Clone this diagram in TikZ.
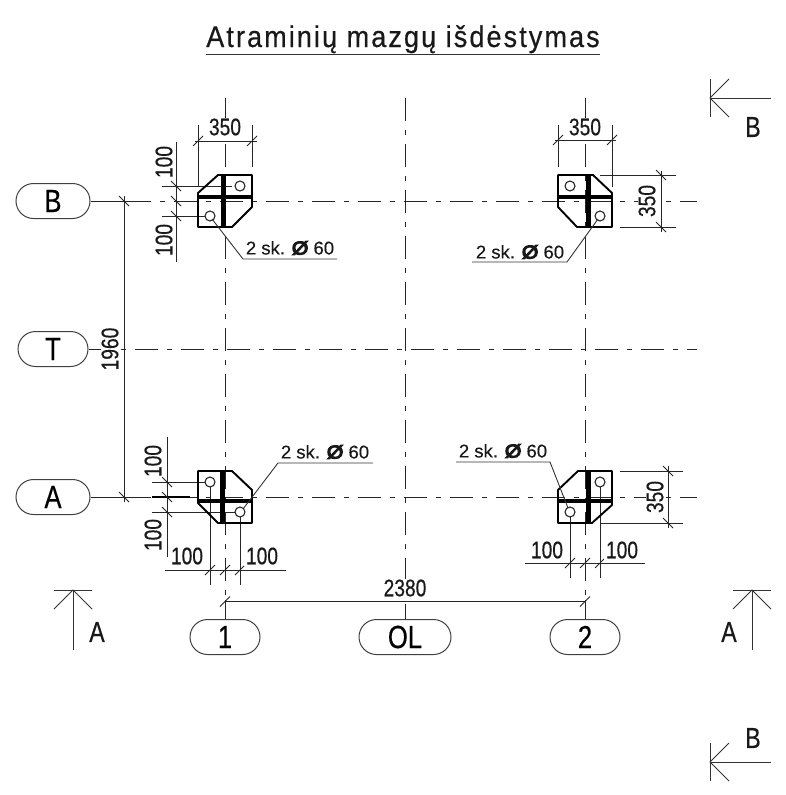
\documentclass[tikz,border=0pt]{standalone}
\usepackage{fontspec}
\setmainfont[FakeStretch=0.8,FakeBold=0.4]{Liberation Sans}
\newfontfamily\titlefont[FakeStretch=0.9,LetterSpace=7,FakeBold=0.45]{Liberation Sans}
\newfontfamily\leadfont[FakeStretch=1.0,FakeBold=0.3]{Liberation Sans}
\newfontfamily\blobfont[FakeStretch=1.15,FakeBold=6]{Liberation Sans}
\usetikzlibrary{shapes.misc}
\tikzset{
  axisline/.style={line width=0.9pt,draw=black!85,dash pattern=on 23pt off 9pt on 5pt off 9pt},
  thinline/.style={line width=0.9pt,draw=black!80},
  dimline/.style={line width=0.9pt,draw=black!85},
  plate/.style={line width=1.9pt,draw=black,line join=round},
  ribv/.style={line width=5pt,draw=black},
  ribh/.style={line width=4pt,draw=black},
  hole/.style={line width=1.1pt,draw=black!85},
  bubble/.style={rounded rectangle,draw=black!75,line width=1pt,minimum height=35pt,inner sep=0pt,font=\fontsize{32}{32}\selectfont,text=black},
  dimtext/.style={font=\fontsize{24}{24}\selectfont,inner xsep=2pt,inner ysep=1pt,fill=white,text=black!90},
  leadtext/.style={font=\fontsize{18.5}{18.5}\selectfont\leadfont,inner sep=0pt,text=black!90},
  sectext/.style={font=\fontsize{29}{29}\selectfont,inner sep=0pt,text=black!90},
  slash/.pic={\draw[line width=0.9pt,draw=black!85] (-5,5) -- (5,-5);},
  bslash/.pic={\draw[line width=0.9pt,draw=black!85] (-5,-5) -- (5,5);},
}
\newcommand{\leadlabel}{2 sk. {\blobfont Ø} 60}
\begin{document}
\begin{tikzpicture}[x=1pt,y=-1pt]
\useasboundingbox (0,0) rectangle (786,795);
% title
\node[inner sep=0pt,anchor=base,font=\fontsize{30}{30}\selectfont\titlefont,text=black!90] (title) at (403,47) {Atraminių mazgų išdėstymas};
\coordinate (tl) at (206,54); \coordinate (tr) at (600,54);
\draw[thinline] (tl) -- (tr);
% bubbles
\node[bubble,minimum width=74pt] (B) at (53,201) {B};
\node[bubble,minimum width=70pt] (T) at (53,349) {T};
\node[bubble,minimum width=74pt] (A) at (53,497) {A};
\node[bubble,minimum width=70pt] (n1) at (225,637) {1};
\node[bubble,minimum width=92pt] (OL) at (405,637) {OL};
\node[bubble,minimum width=70pt] (n2) at (585,637) {2};
% axes
\coordinate (v1t) at (225,98); \coordinate (v2t) at (405,98); \coordinate (v3t) at (585,98);
\coordinate (v1e) at (225,600); \coordinate (v3e) at (585,600);
\coordinate (h1e) at (697,201); \coordinate (h2e) at (697,349); \coordinate (h3e) at (697,497);
\coordinate (h1s) at (128,201); \coordinate (h3s) at (128,497);
\draw[axisline] (v1t) -- (v1e);
\draw[axisline] (v2t) -- (OL.north);
\draw[axisline] (v3t) -- (v3e);
\draw[dimline] (v1e) -- (n1.north);
\draw[dimline] (v3e) -- (n2.north);
\draw[axisline] (h1s) -- (h1e);
\draw[axisline] (T.east) -- (h2e);
\draw[axisline] (h3s) -- (h3e);
\draw[dimline] (B.east) -- (h1s);
\draw[dimline] (A.east) -- (h3s);
% 1960
\coordinate (d1a) at (124,196); \coordinate (d1b) at (124,502);
\draw[dimline] (d1a) -- (d1b);
\pic at (124,201) {bslash}; \pic at (124,497) {bslash};
\node[dimtext,rotate=90] (t1960) at (110,349) {1960};
% 2380
\coordinate (d2a) at (225,601.5); \coordinate (d2b) at (585,601.5);
\draw[dimline] (d2a) -- (d2b);
\pic at (225,601.5) {slash}; \pic at (585,601.5) {slash};
\node[dimtext] (t2380) at (405,588) {2380};

% ---------- top-left plate
\draw[dimline] (198,125) -- (198,186);
\draw[dimline] (252,125) -- (252,167);
\draw[dimline] (195,141) -- (257,141);
\pic at (198,141) {slash}; \pic at (252,141) {slash};
\node[dimtext] at (225,127) {350};
\draw[dimline] (176,142) -- (176,262);
\draw[dimline] (162,186) -- (232,186);
\draw[dimline] (162,216) -- (205,216);
\pic at (176,186) {bslash}; \pic at (176,201) {bslash}; \pic at (176,216) {bslash};
\node[dimtext,rotate=90] at (164,162) {100};
\node[dimtext,rotate=90] at (164,240) {100};
\draw[plate] (198,193) -- (218,175) -- (252,175) -- (252,207) -- (232,227) -- (198,227) -- cycle;
\draw[ribv] (223,175) -- (223,227);
\draw[ribh] (198,196.5) -- (252,196.5);
\draw[hole,fill=white] (240,186) circle[radius=5];
\draw[hole,fill=white] (210,216) circle[radius=5];
\draw[thinline] (212,219) -- (243,259) -- (337,259);
\node[leadtext] at (290,248) {\leadlabel};

% ---------- top-right plate
\draw[dimline] (558,125) -- (558,167);
\draw[dimline] (612,125) -- (612,187);
\draw[dimline] (555,140) -- (616,140);
\pic at (558,140) {slash}; \pic at (612,140) {slash};
\node[dimtext] at (585,127) {350};
\draw[dimline] (661,171) -- (661,232);
\draw[dimline] (600,175) -- (676,175);
\draw[dimline] (620,227) -- (676,227);
\pic at (661,175) {bslash}; \pic at (661,227) {bslash};
\node[dimtext,rotate=90] at (647,201) {350};
\draw[plate] (558,175) -- (593,175) -- (612,193) -- (612,227) -- (577,227) -- (558,207) -- cycle;
\draw[ribv] (588,175) -- (588,227);
\draw[ribh] (558,196.5) -- (612,196.5);
\draw[hole,fill=white] (570,186) circle[radius=5];
\draw[hole,fill=white] (600,216) circle[radius=5];
\draw[thinline] (598,219) -- (567,262) -- (472,262);
\node[leadtext] at (520,252) {\leadlabel};

% ---------- bottom-left plate
\draw[dimline] (167,437) -- (167,557);
\draw[dimline] (152,482) -- (205,482);
\draw[dimline] (152,512) -- (235,512);
\draw[line width=1.4pt] (152,497) -- (190,497);
\pic at (167,482) {bslash}; \pic at (167,497) {bslash}; \pic at (167,512) {bslash};
\node[dimtext,rotate=90] at (153,461) {100};
\node[dimtext,rotate=90] at (153,535) {100};
\draw[dimline] (165,570) -- (286,570);
\draw[dimline] (210,481) -- (210,585);
\draw[dimline] (240,512) -- (240,585);
\pic at (210,570) {slash}; \pic at (225,570) {slash}; \pic at (240,570) {slash};
\node[dimtext] at (187,556) {100};
\node[dimtext] at (262,556) {100};
\draw[plate] (198,471) -- (232,471) -- (252,490) -- (252,523) -- (218,523) -- (198,503) -- cycle;
\draw[ribv] (222.5,471) -- (222.5,523);
\draw[ribh] (198,501) -- (252,501);
\draw[hole,fill=white] (210,482) circle[radius=5];
\draw[hole,fill=white] (240,512) circle[radius=5];
\draw[thinline] (243,509) -- (278,463) -- (373,463);
\node[leadtext] at (325,452) {\leadlabel};

% ---------- bottom-right plate
\draw[dimline] (668,466) -- (668,528);
\draw[dimline] (620,471) -- (683,471);
\draw[dimline] (600,523) -- (683,523);
\pic at (668,471) {bslash}; \pic at (668,523) {bslash};
\node[dimtext,rotate=90] at (655,497) {350};
\draw[dimline] (525,563) -- (645,563);
\draw[dimline] (570,512) -- (570,578);
\draw[dimline] (600,482) -- (600,578);
\pic at (570,563) {slash}; \pic at (585,563) {slash}; \pic at (600,563) {slash};
\node[dimtext] at (547,550) {100};
\node[dimtext] at (622,550) {100};
\draw[plate] (578,471) -- (612,471) -- (612,505) -- (592,523) -- (558,523) -- (558,490) -- cycle;
\draw[ribv] (588,471) -- (588,523);
\draw[ribh] (558,501) -- (612,501);
\draw[hole,fill=white] (600,482) circle[radius=5];
\draw[hole,fill=white] (570,512) circle[radius=5];
\draw[thinline] (568,508) -- (550,462) -- (456,462);
\node[leadtext] at (503,451) {\leadlabel};

% ---------- section marks
\draw[thinline] (710,79) -- (710,117);
\draw[thinline] (710,98) -- (771,98);
\draw[thinline] (729,79) -- (710,98) -- (729,117);
\node[sectext] at (753,127) {B};
\draw[thinline] (710,743) -- (710,781);
\draw[thinline] (710,762) -- (771,762);
\draw[thinline] (729,743) -- (710,762) -- (729,781);
\node[sectext] at (753,738) {B};
\draw[thinline] (54,590) -- (92,590);
\draw[thinline] (73,590) -- (73,650);
\draw[thinline] (54,609) -- (73,590) -- (92,609);
\node[sectext] at (97,632) {A};
\draw[thinline] (733,590) -- (771,590);
\draw[thinline] (752,590) -- (752,650);
\draw[thinline] (733,609) -- (752,590) -- (771,609);
\node[sectext] at (729,632) {A};
\end{tikzpicture}
\end{document}
